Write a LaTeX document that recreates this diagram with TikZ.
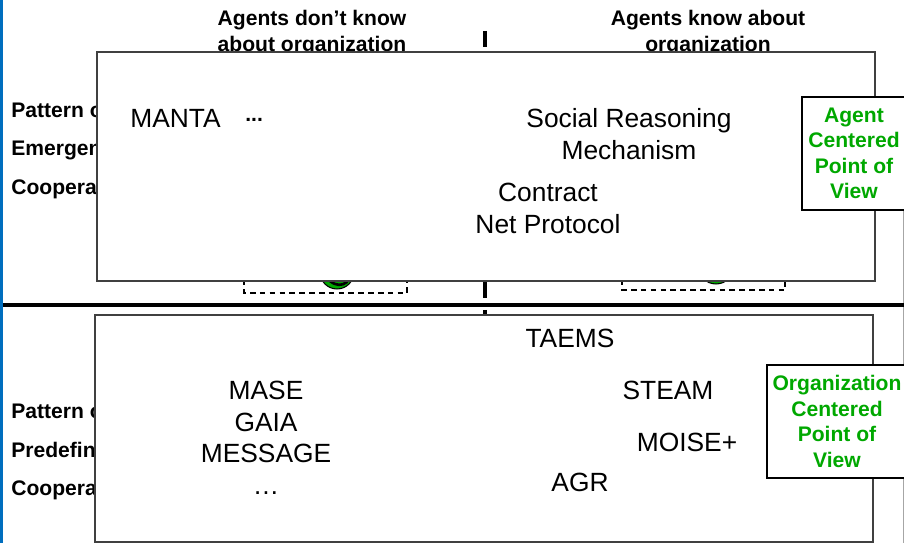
\documentclass[tikz,border=0pt]{standalone}
\usepackage{fontspec}
\setmainfont{Liberation Sans}
\usetikzlibrary{positioning}
\definecolor{viewgreen}{RGB}{0,168,0}
\definecolor{slideblue}{RGB}{0,110,190}
\definecolor{panelgray}{RGB}{64,64,64}

\begin{document}
\begin{tikzpicture}[
    x=0.02cm, y=-0.02cm,
    header/.style={font=\fontsize{12}{14.5}\selectfont\bfseries, align=center, inner sep=0pt, anchor=north},
    rowlabel/.style={font=\fontsize{12}{14.5}\selectfont\bfseries, inner sep=0pt, anchor=north west},
    panel/.style={draw=panelgray, line width=0.7pt, fill=white},
    system/.style={font=\fontsize{15}{18}\selectfont, inner sep=0pt, anchor=base},
    systems/.style={font=\fontsize{15}{18}\selectfont, align=center, inner sep=0pt, anchor=north},
    viewbox/.style={draw, line width=0.6pt, fill=white, text=viewgreen, font=\fontsize{12}{14.5}\selectfont\bfseries, align=center, inner sep=0pt, minimum height=2.26cm},
    zonebox/.style={draw, line width=0.6pt, dash pattern=on 3.2pt off 2.4pt},
    agenticon/.style={draw, line width=0.6pt, fill=viewgreen, circle, inner sep=0pt},
]
\useasboundingbox (0,0) rectangle (904,543);

% Slide border
\draw[slideblue, line width=1.7pt] (1.5,0) -- (1.5,543);
\draw[gray!70, line width=0.5pt] (903,210) -- (903,543);

% Column headers
\node[header] (notknow) at (312,10) {Agents don’t know\\about organization};
\node[header] (know) at (708,10) {Agents know about\\organization};

% Column separator
\coordinate (septop) at (485,31);
\coordinate (sepbot) at (485,543);
\draw[line width=2.3pt, dash pattern=on 9.07pt off 6.8pt] (septop) -- (sepbot);

% Row labels (behind the panels)
\node[rowlabel] (apattern) at (11,103) {Pattern o};
\node[rowlabel] (aemergent) at (11,141) {Emergen};
\node[rowlabel] (acoop) at (11,179) {Coopera};
\node[rowlabel] (opattern) at (11,404) {Pattern o};
\node[rowlabel] (opredef) at (11,442) {Predefin};
\node[rowlabel] (ocoop) at (11,480) {Coopera};

% Dashed zones with agent icons
\draw[zonebox] (244,240) rectangle (407,293);
\draw[zonebox] (622,240) rectangle (785,290);
\node[agenticon, minimum size=0.68cm] (lefticon) at (337,272) {};
\draw[line width=1.5pt, line cap=round] (330,281) .. controls (336,286) and (342,286) .. (347,282);
\node[agenticon, minimum size=0.72cm] (righticon) at (716,266) {};

% Agent centered panel
\draw[panel] (97,52) rectangle (875,281);
\node[system, anchor=base west] (manta) at (130,128) {MANTA};
\node[font=\fontsize{12}{14.5}\selectfont\bfseries, inner sep=0pt, anchor=base west] (mantadots) at (245,122) {...};
\node[systems] (social) at (629,108) {Social Reasoning\\Mechanism};
\node[systems] (contract) at (548,183) {Contract\\Net Protocol};
\node[viewbox, minimum width=2.08cm] (agentview) at (854,153.5) {Agent\\Centered\\Point of\\View};

% Dividing rule
\draw[line width=2.3pt] (3,305) -- (904,305);

% Organization centered panel
\draw[panel] (95,315) rectangle (873,542);
\node[system] (taems) at (570,348) {TAEMS};
\node[systems] (mase) at (266,381) {MASE\\GAIA\\MESSAGE\\…};
\node[system] (steam) at (668,400) {STEAM};
\node[system] (moise) at (687,452) {MOISE+};
\node[system] (agr) at (580,492) {AGR};
\node[viewbox, minimum width=2.8cm] (orgview) at (837,421.5) {Organization\\Centered\\Point of\\View};

\end{tikzpicture}
\end{document}
